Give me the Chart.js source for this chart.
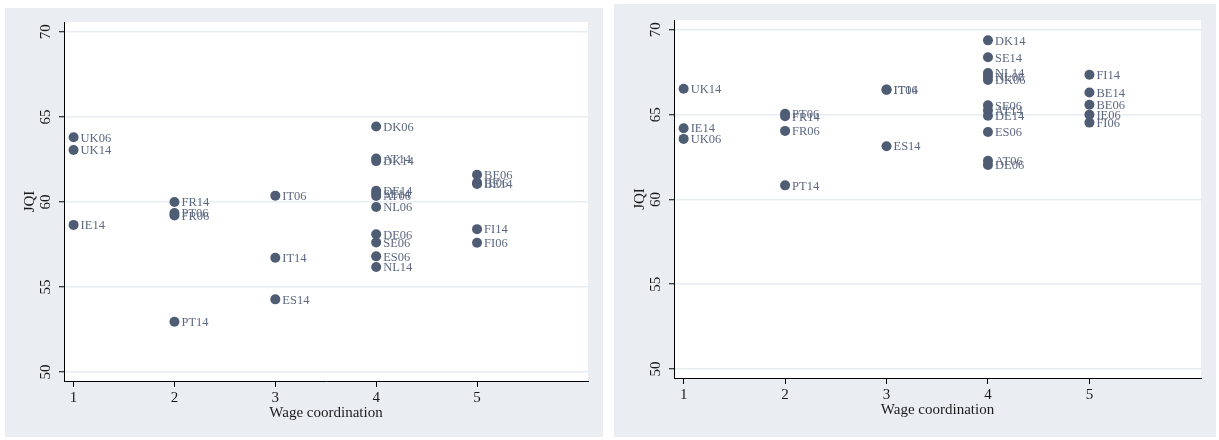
<!DOCTYPE html>
<html><head><meta charset="utf-8">
<script src="https://cdn.jsdelivr.net/npm/chart.js@4"></script>
<style>
html,body{margin:0;padding:0;background:#fff;width:1219px;height:440px;overflow:hidden}
.panel{position:absolute;background:#eaeef3}
#pa{left:5px;top:8px;width:598px;height:429px}
#pb{left:614px;top:4px;width:602px;height:433px}
canvas{display:block}
</style></head><body>
<div class="panel" id="pa"><canvas id="ca" width="598" height="429"></canvas></div>
<div class="panel" id="pb"><canvas id="cb" width="602" height="433"></canvas></div>
<script>
// ---- data ----
const xTicks = [1, 2, 3, 4, 5];
const yTicks = [50, 55, 60, 65, 70];
const xTitle = 'Wage coordination';
const yTitle = 'JQI';

const labelsA = ['UK06','UK14','IE14','FR14','PT06','FR06','PT14','IT06','IT14','ES14','DK06','AT14','DK14','DE14','SE14','AT06','NL06','DE06','SE06','ES06','NL14','BE06','IE06','BE14','FI14','FI06'];
const wageA   = [1,1,1,2,2,2,2,3,3,3,4,4,4,4,4,4,4,4,4,4,4,5,5,5,5,5];
const jqiA    = [63.8,63.05,58.65,60.0,59.35,59.2,52.95,60.37,56.72,54.27,64.43,62.55,62.4,60.66,60.5,60.35,59.7,58.1,57.62,56.8,56.17,61.6,61.12,61.05,58.4,57.6];

const labelsB = ['UK14','IE14','UK06','PT06','FR14','FR06','PT14','IT06','IT14','ES14','DK14','SE14','NL14','NL06','DK06','SE06','AT14','DE14','ES06','AT06','DE06','FI14','BE14','BE06','IE06','FI06'];
const wageB   = [1,1,1,2,2,2,2,3,3,3,4,4,4,4,4,4,4,4,4,4,4,5,5,5,5,5];
const jqiB    = [66.53,64.2,63.57,65.05,64.9,64.04,60.83,66.48,66.46,63.14,69.38,68.38,67.45,67.25,67.04,65.55,65.25,64.93,63.98,62.28,62.03,67.35,66.3,65.58,65.0,64.53];

// ---- style ----
const SERIF = '"Liberation Serif", "Times New Roman", serif';
const MARK = '#4e5c74';
const LBL = '#5d6880';
const GRID = '#e8edf2';

const areaBg = { id:'areaBg', beforeDraw(c){ const a=c.chartArea, ctx=c.ctx; ctx.save(); ctx.fillStyle='#fff'; ctx.fillRect(a.left,a.top,a.right-a.left,a.bottom-a.top); ctx.restore(); } };
const pointLbl = { id:'pointLbl', afterDatasetsDraw(c){ const ctx=c.ctx; const ds=c.data.datasets[0]; const meta=c.getDatasetMeta(0);
  ctx.save(); ctx.font='12.5px '+SERIF; ctx.fillStyle=LBL; ctx.textBaseline='middle'; ctx.textAlign='left';
  meta.data.forEach((pt,i)=>{ ctx.fillText(ds.pointLabels[i], pt.x+7, pt.y+1); });
  ctx.restore(); } };
const axisText = { id:'axisText', afterDraw(c){ const ctx=c.ctx, y=c.scales.y, a=c.chartArea;
  ctx.save(); ctx.fillStyle='#1a1a1a'; ctx.font='15px '+SERIF; ctx.textAlign='center'; ctx.textBaseline='middle';
  y.ticks.forEach(t=>{ const py=y.getPixelForValue(t.value); ctx.save(); ctx.translate(a.left-18, py); ctx.rotate(-Math.PI/2); ctx.fillText(String(t.value),0,0); ctx.restore(); });
  ctx.save(); ctx.translate(a.left-34,(a.top+a.bottom)/2); ctx.rotate(-Math.PI/2); ctx.fillText(yTitle,0,0); ctx.restore();
  ctx.fillText(xTitle,(a.left+a.right)/2,a.bottom+32);
  ctx.restore(); } };

function make(id, labels, xs, ys, pad, yW, xH){
  const data = xs.map((v,i)=>({x:v, y:ys[i]}));
  return new Chart(document.getElementById(id), {
    type:'scatter',
    data:{ datasets:[{ data, pointLabels:labels, backgroundColor:MARK, borderWidth:0, pointRadius:5, pointHoverRadius:5 }] },
    options:{
      responsive:false, animation:false, devicePixelRatio:1,
      layout:{ padding:pad },
      plugins:{ legend:{display:false}, tooltip:{enabled:false} },
      scales:{
        x:{ type:'linear', min:0.905, max:6.1,
            afterBuildTicks:s=>{ s.ticks = xTicks.map(v=>({value:v})); },
            afterFit:s=>{ s.height = xH; },
            border:{ display:true, color:'#000', width:1 },
            grid:{ drawOnChartArea:false, drawTicks:true, tickLength:6, tickColor:'#000', tickWidth:1 },
            ticks:{ color:'#1a1a1a', font:{ family:SERIF, size:15 }, padding:2, maxRotation:0 } },
        y:{ type:'linear', min:49.47, max:70.58,
            afterBuildTicks:s=>{ s.ticks = yTicks.map(v=>({value:v})); },
            afterFit:s=>{ s.width = yW; },
            border:{ display:true, color:'#000', width:1 },
            grid:{ color:GRID, lineWidth:1.5, drawTicks:true, tickLength:5, tickColor:'#000', tickWidth:1 },
            ticks:{ color:'rgba(0,0,0,0)', font:{ family:SERIF, size:15 } } }
      }
    },
    plugins:[areaBg, pointLbl, axisText]
  });
}
make('ca', labelsA, wageA, jqiA, {left:0, top:14, right:15, bottom:0}, 59, 56);
make('cb', labelsB, wageB, jqiB, {left:0, top:16, right:15, bottom:0}, 60, 59);
</script>
</body></html>
